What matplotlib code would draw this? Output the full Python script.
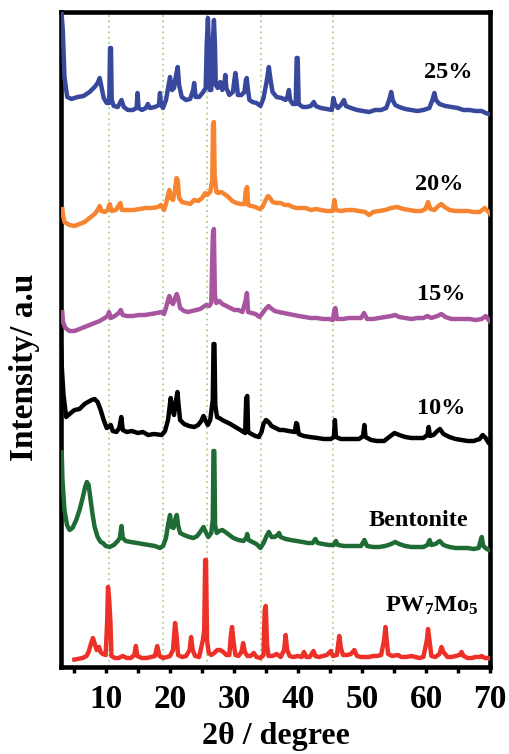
import matplotlib
matplotlib.use("Agg")
import matplotlib.pyplot as plt
from matplotlib.ticker import MultipleLocator

plt.rcParams['font.family'] = ['Liberation Serif', 'DejaVu Serif']
plt.rcParams['font.weight'] = 'bold'
plt.rcParams['mathtext.fontset'] = 'custom'
plt.rcParams['mathtext.rm'] = 'Liberation Serif:bold'
plt.rcParams['mathtext.it'] = 'Liberation Serif:bold'
plt.rcParams['mathtext.bf'] = 'Liberation Serif:bold'

# ---------------- data (2theta in degrees, intensity in a.u.) ----------------
labels = ["PW$_7$Mo$_5$", "Bentonite", "10%", "15%", "20%", "25%"]
offsets = [0, 110, 220, 340, 440, 540]
colors = ["#ee3128", "#1f6b35", "#000000", "#a8559f", "#f68430", "#38489c"]

pw_x = [4.65, 5.49, 6.27, 6.90, 7.22, 7.53, 7.89, 8.24, 8.47, 8.84, 9.10, 9.42, 9.89, 10.13, 10.25, 10.44,
        10.63, 10.79, 11.31, 11.93, 12.56, 13.19, 13.82, 14.37, 14.61, 14.84, 15.55, 16.34, 16.97, 17.59,
        17.96, 18.30, 18.85, 19.48, 19.95, 20.42, 20.74, 20.97, 21.21, 21.84, 22.47, 23.02, 23.25, 23.49,
        23.88, 24.51, 25.09, 25.30, 25.45, 25.58, 25.74, 26.01, 26.40, 26.87, 27.34, 27.81, 28.29, 28.76,
        29.23, 29.47, 29.65, 29.86, 30.17, 30.65, 31.12, 31.39, 31.67, 32.06, 32.53, 33.05, 33.47, 34.10,
        34.57, 34.76, 34.92, 35.13, 35.36, 35.99, 36.62, 37.26, 37.80, 38.03, 38.27, 38.66, 39.29, 39.92,
        40.55, 40.91, 41.26, 41.81, 42.39, 42.67, 43.22, 43.85, 44.48, 45.11, 45.42, 46.05, 46.42, 46.68,
        47.00, 47.63, 48.26, 48.77, 49.20, 49.83, 50.46, 51.09, 51.71, 52.34, 52.97, 53.44, 53.65, 53.84,
        54.07, 54.70, 55.60, 56.12, 56.90, 57.69, 58.32, 58.95, 59.58, 60.13, 60.31, 60.52, 60.83, 61.46,
        62.09, 62.41, 62.72, 63.35, 63.98, 64.61, 65.24, 65.55, 65.86, 66.50, 67.13, 67.75, 68.38, 68.69,
        69.17, 69.64, 70.26]
pw_y = [8, 9, 10, 12, 16, 23, 30, 23, 18, 21, 16, 14, 13, 48, 81, 68,
        46, 12, 10, 10, 12, 10, 10, 13, 22, 12, 10, 10, 11, 12,
        22, 12, 10, 11, 12, 18, 45, 33, 13, 11, 12, 18, 31, 18,
        12, 11, 28, 38, 108, 108, 28, 15, 13, 15, 18, 18, 16, 13,
        13, 33, 41, 28, 13, 12, 16, 25, 16, 12, 12, 15, 11, 10,
        13, 58, 62, 23, 12, 12, 14, 11, 18, 33, 18, 12, 11, 12,
        11, 16, 11, 11, 17, 12, 11, 12, 13, 17, 12, 13, 32, 20,
        13, 13, 14, 18, 12, 11, 11, 11, 12, 12, 13, 28, 41, 28,
        14, 12, 13, 11, 11, 12, 11, 10, 11, 28, 39, 28, 12, 11,
        14, 21, 16, 11, 11, 12, 13, 16, 12, 10, 10, 11, 11, 12,
        10, 10, 9]

bent_x = [3.00, 3.13, 3.44, 3.84, 4.23, 4.70, 5.28, 5.80, 6.32, 6.67, 6.95, 7.22, 7.53, 7.85, 8.16, 8.63,
          9.10, 9.47, 9.89, 10.52, 11.15, 11.78, 12.09, 12.36, 12.56, 13.03, 13.82, 14.76, 15.71, 16.65,
          17.59, 18.38, 18.86, 19.32, 19.64, 19.95, 20.19, 20.50, 20.82, 21.01, 21.21, 21.53, 22.15, 22.94,
          23.62, 24.20, 24.67, 25.19, 25.53, 25.93, 26.40, 26.64, 26.75, 26.88, 27.00, 27.26, 27.66, 28.13,
          28.60, 29.23, 29.86, 30.65, 31.43, 31.87, 32.03, 32.22, 32.85, 33.47, 34.10, 34.58, 35.05, 35.41,
          35.83, 36.31, 36.78, 37.01, 37.25, 38.03, 38.82, 39.76, 40.71, 41.49, 42.28, 42.67, 43.06, 43.86,
          44.81, 45.58, 45.90, 46.21, 47.16, 48.10, 49.04, 49.83, 50.35, 50.77, 51.71, 52.66, 53.60, 54.55,
          55.17, 55.80, 56.75, 57.69, 58.63, 59.58, 60.20, 60.56, 60.83, 61.46, 62.13, 62.72, 63.66, 64.61,
          65.55, 66.50, 67.44, 68.23, 68.55, 68.71, 68.95, 69.50, 70.26]
bent_y = [108, 78, 48, 33, 28, 30, 38, 48, 61, 71, 76, 73, 58, 43, 31, 21,
          16, 15, 12, 11, 13, 17, 20, 32, 20, 17, 16, 15, 14, 13,
          12, 10, 12, 20, 33, 43, 31, 30, 40, 43, 33, 25, 23, 21,
          20, 22, 26, 31, 26, 21, 25, 38, 107, 107, 33, 25, 27, 28,
          26, 23, 20, 18, 17, 20, 24, 18, 16, 14, 10, 15, 22, 26,
          21, 21, 23, 25, 21, 19, 18, 17, 16, 15, 15, 19, 15, 14,
          13, 13, 17, 13, 12, 12, 12, 12, 18, 12, 11, 11, 12, 14,
          16, 14, 12, 11, 11, 11, 13, 18, 13, 14, 17, 13, 11, 10,
          10, 10, 9, 10, 18, 21, 12, 9, 7]

p10_x = [2.89, 3.05, 3.29, 3.71, 4.23, 5.02, 5.80, 6.59, 7.11, 7.69, 8.16, 8.63, 9.10, 9.58, 10.05, 10.36,
         10.68, 10.99, 11.57, 12.01, 12.33, 12.56, 13.19, 13.98, 14.92, 15.71, 16.54, 17.44, 18.65, 19.17,
         19.64, 20.06, 20.35, 20.58, 20.90, 21.11, 21.29, 21.53, 22.15, 22.94, 23.73, 24.36, 24.83, 25.19,
         25.46, 25.86, 26.24, 26.64, 26.76, 26.90, 27.03, 27.30, 27.66, 28.13, 28.76, 29.39, 30.17, 30.96,
         31.70, 31.87, 32.03, 32.17, 32.69, 33.32, 33.84, 34.26, 34.57, 34.97, 35.36, 35.83, 36.46, 37.09,
         37.72, 38.51, 39.46, 39.69, 39.84, 40.08, 40.86, 41.81, 43.02, 44.01, 45.11, 45.58, 45.74, 45.90,
         46.68, 47.63, 48.57, 49.51, 50.14, 50.35, 50.53, 51.40, 52.34, 53.44, 54.23, 55.06, 55.80, 56.75,
         57.69, 58.63, 59.58, 60.20, 60.41, 60.60, 61.15, 61.77, 62.17, 62.72, 63.66, 64.61, 65.55, 66.50,
         67.44, 68.38, 68.85, 69.32, 69.80, 70.26]
p10_y = [103, 78, 53, 31, 34, 38, 39, 44, 46, 48, 49, 46, 38, 28, 20, 21,
         23, 17, 16, 20, 31, 18, 16, 17, 15, 16, 13, 14, 13, 17,
         28, 50, 38, 33, 48, 56, 43, 28, 24, 22, 21, 23, 27, 32,
         28, 23, 28, 48, 104, 104, 43, 31, 30, 28, 26, 24, 21, 18,
         15, 50, 52, 16, 14, 12, 11, 16, 24, 28, 26, 22, 20, 18,
         18, 17, 16, 25, 24, 14, 12, 11, 10, 9, 9, 11, 28, 11,
         9, 9, 9, 9, 12, 23, 11, 8, 7, 7, 11, 15, 13, 11,
         10, 10, 10, 13, 21, 12, 13, 17, 19, 14, 11, 9, 8, 7,
         7, 9, 13, 10, 5, 3]

p15_x = [3.08, 3.21, 3.60, 4.23, 5.02, 5.80, 6.59, 7.37, 8.16, 8.95, 9.73, 10.20, 10.41, 10.68, 11.31, 11.93,
         12.25, 12.56, 13.19, 14.14, 15.08, 16.02, 16.97, 17.91, 18.54, 19.01, 19.32, 19.64, 19.84, 20.11,
         20.42, 20.74, 21.01, 21.21, 21.53, 22.15, 22.78, 23.41, 24.04, 24.67, 25.14, 25.61, 26.08, 26.40,
         26.65, 26.81, 26.97, 27.19, 27.67, 28.14, 28.76, 29.39, 30.02, 30.65, 31.28, 31.79, 31.98, 32.17,
         32.69, 33.32, 33.96, 34.43, 34.90, 35.38, 35.69, 36.32, 36.95, 37.74, 38.52, 39.31, 40.09, 41.03,
         41.97, 42.92, 43.86, 44.81, 45.43, 45.66, 45.82, 46.05, 47.00, 47.94, 48.88, 49.83, 50.30, 50.77,
         51.71, 52.66, 53.60, 54.55, 55.17, 55.80, 56.75, 57.69, 58.63, 59.58, 60.20, 60.83, 61.77, 62.40,
         63.03, 63.98, 64.92, 65.86, 66.81, 67.75, 68.69, 69.32, 69.80, 70.26]
p15_y = [18, 6, 0, -3, -3, -1, 1, 3, 5, 7, 10, 12, 16, 10, 12, 15,
         18, 13, 12, 12, 13, 13, 14, 15, 16, 14, 20, 28, 32, 26,
         24, 30, 34, 30, 20, 17, 16, 17, 18, 19, 21, 23, 22, 25,
         93, 99, 33, 25, 27, 24, 22, 20, 18, 18, 16, 28, 35, 16,
         15, 14, 11, 15, 19, 22, 20, 17, 16, 15, 14, 13, 12, 11,
         10, 10, 9, 9, 8, 18, 20, 9, 9, 10, 10, 10, 15, 9,
         9, 10, 11, 12, 13, 11, 10, 9, 10, 10, 12, 10, 12, 14,
         11, 9, 9, 9, 9, 8, 9, 12, 8, 5]

p20_x = [3.08, 3.21, 3.44, 4.23, 5.02, 5.80, 6.59, 7.37, 8.16, 8.63, 8.95, 9.26, 9.73, 10.20, 10.52, 10.83,
         11.46, 12.20, 12.41, 13.35, 14.29, 15.24, 16.18, 17.12, 18.07, 18.54, 19.01, 19.32, 19.64, 19.84,
         20.11, 20.42, 20.74, 20.97, 21.16, 21.37, 21.84, 22.47, 23.10, 23.73, 24.36, 24.98, 25.46, 25.77,
         26.24, 26.56, 26.68, 26.81, 26.93, 27.19, 27.50, 27.97, 28.44, 29.07, 29.70, 30.33, 30.96, 31.59,
         31.82, 32.01, 32.17, 32.69, 33.32, 33.96, 34.43, 34.90, 35.29, 35.60, 35.99, 36.62, 37.26, 37.89,
         38.51, 39.14, 39.77, 40.40, 41.18, 41.97, 42.75, 43.54, 44.48, 45.42, 45.66, 45.90, 46.68, 47.63,
         48.57, 49.51, 50.46, 51.09, 51.71, 52.66, 53.60, 54.55, 55.49, 56.43, 57.38, 58.32, 59.26, 59.89,
         60.31, 60.67, 61.30, 61.93, 62.41, 62.88, 63.66, 64.61, 65.55, 66.50, 67.44, 68.38, 69.17, 69.80,
         70.26]
p20_y = [21, 13, 6, 3, 2, 4, 6, 10, 14, 18, 22, 17, 16, 18, 24, 17,
         18, 25, 18, 18, 18, 19, 20, 20, 21, 23, 18, 24, 33, 38,
         30, 28, 38, 50, 48, 30, 26, 25, 24, 28, 27, 30, 35, 33,
         36, 48, 103, 106, 53, 36, 35, 36, 34, 31, 27, 25, 24, 24,
         38, 41, 23, 22, 21, 19, 21, 28, 32, 30, 26, 25, 25, 23,
         23, 21, 20, 20, 20, 18, 19, 18, 17, 17, 28, 18, 17, 18,
         18, 17, 16, 13, 16, 17, 18, 20, 21, 19, 18, 17, 17, 19,
         26, 19, 18, 22, 24, 21, 18, 17, 17, 17, 16, 16, 20, 16,
         12]

p25_x = [2.97, 3.18, 3.44, 3.87, 4.54, 5.49, 6.43, 7.37, 8.16, 8.63, 8.95, 9.26, 9.58, 10.05, 10.44, 10.57,
         10.72, 10.83, 11.15, 11.78, 12.36, 12.72, 13.35, 14.14, 14.72, 14.87, 15.03, 15.55, 16.18, 16.49,
         16.81, 17.59, 18.22, 18.38, 18.54, 18.85, 19.32, 19.64, 19.95, 20.27, 20.58, 20.90, 21.16, 21.37,
         21.79, 22.47, 23.10, 23.57, 23.73, 23.96, 24.51, 25.14, 25.53, 25.69, 25.88, 26.04, 26.16, 26.40,
         26.67, 26.82, 26.98, 27.11, 27.42, 27.81, 28.13, 28.44, 28.60, 28.76, 29.23, 29.78, 30.02, 30.17,
         30.33, 30.57, 31.12, 31.59, 31.82, 31.95, 32.11, 32.37, 32.85, 33.47, 34.10, 34.58, 35.05, 35.41,
         35.68, 35.99, 36.62, 37.41, 38.03, 38.35, 38.55, 38.74, 39.14, 39.61, 39.76, 39.92, 40.08, 40.71,
         41.33, 41.96, 42.44, 42.75, 43.54, 44.48, 45.27, 45.50, 45.74, 46.21, 46.68, 47.15, 47.47, 48.26,
         49.20, 50.14, 51.09, 52.03, 52.97, 53.76, 54.23, 54.55, 54.78, 55.17, 55.80, 56.75, 57.69, 58.63,
         59.58, 60.52, 60.99, 61.30, 61.54, 62.09, 63.03, 63.98, 64.92, 65.86, 66.81, 67.75, 68.69, 69.32,
         70.26]
p25_y = [116, 98, 51, 31, 29, 31, 32, 36, 41, 45, 50, 40, 30, 25, 25, 80,
         80, 28, 22, 21, 28, 21, 18, 18, 20, 35, 20, 18, 20, 24,
         20, 21, 23, 35, 23, 20, 28, 40, 51, 38, 40, 53, 61, 43,
         31, 28, 29, 38, 45, 31, 31, 36, 40, 83, 110, 78, 38, 38,
         88, 108, 83, 43, 40, 46, 38, 43, 53, 40, 33, 36, 48, 55,
         48, 33, 33, 36, 48, 50, 40, 28, 26, 25, 22, 30, 46, 61,
         48, 36, 31, 30, 28, 32, 38, 28, 24, 24, 70, 70, 24, 21,
         21, 22, 26, 22, 20, 19, 18, 30, 24, 20, 23, 28, 22, 20,
         18, 17, 16, 18, 18, 20, 28, 36, 28, 23, 21, 19, 18, 17,
         18, 20, 28, 35, 28, 24, 22, 21, 20, 18, 18, 17, 17, 15,
         13]

series_x = [pw_x, bent_x, p10_x, p15_x, p20_x, p25_x]
series_y = [pw_y, bent_y, p10_y, p15_y, p20_y, p25_y]

# label anchor positions (2theta, a.u. above each trace's offset)
label_x = [60.9, 58.8, 62.4, 62.4, 62.1, 63.5]
label_dy = [62, 38, 40, 33, 43, 56]

ref_lines = [10.4, 18.8, 25.75, 34.2, 45.5]

# ---------------- figure ----------------
fig = plt.figure(figsize=(5.10, 7.54), dpi=100)
ax = fig.add_axes([61 / 510, 87 / 754, 429 / 510, 655 / 754])

for xv in ref_lines:
    ax.axvline(xv, color="#a9d18e", linestyle=(0, (1, 2)), linewidth=1.3, zorder=1)

for xs, ys, off, c in zip(series_x, series_y, offsets, colors):
    ax.plot(xs, [v + off for v in ys], color=c, linewidth=3.2, zorder=3,
            solid_joinstyle='round', solid_capstyle='butt')

for lab, lx, dy, off in zip(labels, label_x, label_dy, offsets):
    ax.text(lx, off + dy, lab, ha='center', va='center', fontsize=17.5,
            fontweight='bold', zorder=4)

ax.set_xlim(2.9, 70)
ax.set_ylim(1, 656)
ax.xaxis.set_major_locator(MultipleLocator(10))
ax.xaxis.set_minor_locator(MultipleLocator(5))
ax.set_xticks([10, 20, 30, 40, 50, 60, 70])
ax.set_yticks([])
ax.tick_params(axis='x', which='both', direction='out', length=4, width=2.5,
               labelsize=24, pad=8, top=False)
for lbl in ax.get_xticklabels():
    lbl.set_fontweight('bold')
for sp in ax.spines.values():
    sp.set_linewidth(3.3)

ax.set_xlabel("2θ / degree", fontsize=23, fontweight='bold', labelpad=5.5)
ax.set_ylabel("Intensity/ a.u", fontsize=24, fontweight='bold')
ax.yaxis.set_label_coords(-0.049, 0.457)

fig.savefig("out.png", dpi=100)
